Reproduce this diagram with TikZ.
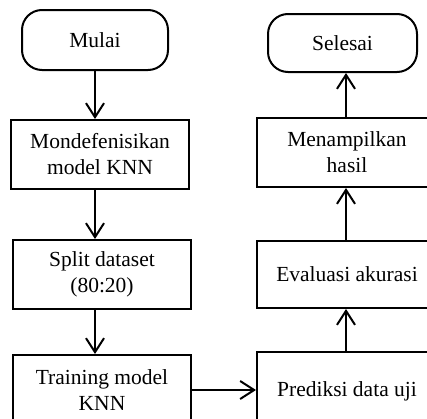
\documentclass[tikz,border=0pt]{standalone}
\usepackage{fontspec}
\setmainfont{Liberation Serif}
\usetikzlibrary{arrows.meta}
\begin{document}
\begin{tikzpicture}[x=1pt,y=-1pt,
  every node/.style={font=\fontsize{21.5}{26}\selectfont, align=center, inner sep=0pt},
  proc/.style={draw, line width=2pt, rectangle},
  term/.style={draw, line width=2pt, rectangle, rounded corners=20pt},
  arr/.style={line width=2pt, -{Straight Barb[length=14pt,width=18pt]}}]
\useasboundingbox (0,0) rectangle (427,418);
\clip (0,0) rectangle (427,418);
\node[term, minimum width=146pt, minimum height=60pt] (mulai) at (95,40) {Mulai};
\node[proc, minimum width=178pt, minimum height=69pt] (m1) at (100,154.5) {Mondefenisikan\\model KNN};
\node[proc, minimum width=178pt, minimum height=69pt] (split) at (102,274.5) {Split dataset\\(80:20)};
\node[proc, minimum width=178pt, minimum height=70pt] (train) at (102,390) {Training model\\KNN};
\node[proc, minimum width=180pt, minimum height=78pt] (pred) at (347,391) {Prediksi data uji};
\node[proc, minimum width=180pt, minimum height=67pt] (eval) at (347,274.5) {Evaluasi akurasi};
\node[proc, minimum width=180pt, minimum height=69pt] (tampil) at (347,152.5) {Menampilkan\\hasil};
\node[term, minimum width=149pt, minimum height=58pt] (selesai) at (342.5,43) {Selesai};
\coordinate (rc) at (346,0);
\draw[arr] (mulai.south) -- (m1.north -| mulai.south);
\draw[arr] (m1.south -| mulai.south) -- (split.north -| mulai.south);
\draw[arr] (split.south -| mulai.south) -- (train.north -| mulai.south);
\draw[arr] (train.east) -- (train.east -| pred.west);
\draw[arr] (pred.north -| rc) -- (eval.south -| rc);
\draw[arr] (eval.north -| rc) -- (tampil.south -| rc);
\draw[arr] (tampil.north -| rc) -- (selesai.south -| rc);
\end{tikzpicture}
\end{document}
